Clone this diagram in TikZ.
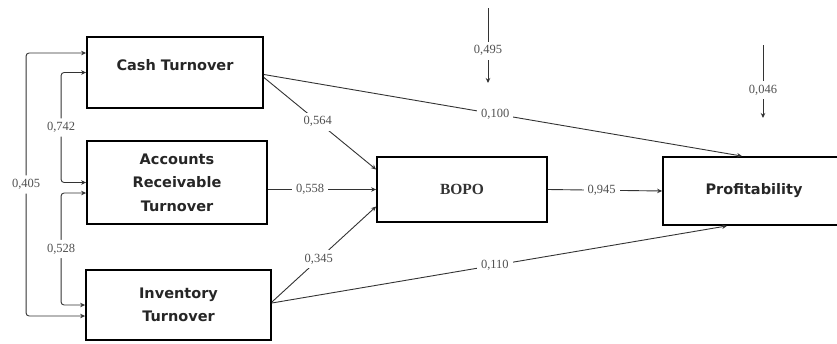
\documentclass[tikz,border=0pt]{standalone}
\usepackage{fontspec}
\setmainfont{Liberation Serif}
\newfontfamily\boxfont{DejaVu Sans}
\usetikzlibrary{arrows.meta}
\definecolor{lbl}{HTML}{505050}
\definecolor{ln}{HTML}{333333}
\begin{document}
\begin{tikzpicture}[x=1pt,y=-1pt,
  box/.style={draw=black,line width=1.8pt,rectangle,inner sep=2pt,align=center,
    font=\boxfont\bfseries\fontsize{14.5}{23.5}\selectfont,text=black!85},
  conn/.style={draw=ln,line width=0.9pt,-{Stealth[length=5pt,width=4.5pt]}},
  biconn/.style={draw=ln,line width=0.9pt,{Stealth[length=5pt,width=4.5pt]}-{Stealth[length=5pt,width=4.5pt]},rounded corners=3pt},
  lab/.style={fill=white,inner sep=4pt,text=lbl,font=\fontsize{12.5}{14}\selectfont}]
\useasboundingbox (0,0) rectangle (837,343);

\node[box,minimum width=176pt,minimum height=71pt,text height=10pt,text depth=15pt] (cash) at (175,72.5) {Cash Turnover};
\node[box,minimum width=180pt,minimum height=83pt] (ar) at (177,182.5) {Accounts\\Receivable\\Turnover};
\node[box,minimum width=185pt,minimum height=70pt] (inv) at (178.5,305) {Inventory\\Turnover};
\node[box,minimum width=170pt,minimum height=65pt,font=\bfseries\fontsize{15.5}{18}\selectfont,text=black!80] (bopo) at (462,189.5) {BOPO};
\node[box,minimum width=182pt,minimum height=68pt] (profit) at (754,191) {Profitability};

\coordinate (e1s) at (488,8);
\coordinate (e1e) at (488,83);
\coordinate (e2s) at (763,45);
\coordinate (e2e) at (763,118);

% correlations on the left
\draw[biconn] ([yshift=19.5pt]cash.west) -- ++(-60,0) |- node[lab,pos=0.25] {0,405} ([yshift=-11pt]inv.west);
\draw[biconn] (cash.west) -- ++(-25,0) |- node[lab,pos=0.25] {0,742} (ar.west);
\draw[biconn] ([yshift=-10.5pt]ar.west) -- ++(-25,0) |- node[lab,pos=0.25] {0,528} (inv.west);

% paths to BOPO
\draw[conn] ([yshift=-5pt]cash.east) -- node[lab,pos=0.48] {0,564} ([yshift=20pt]bopo.west);
\draw[conn] ([yshift=-7pt]ar.east) -- node[lab,pos=0.39] {0,558} (bopo.west);
\draw[conn] ([yshift=3pt]inv.east) -- node[lab,pos=0.45] {0,345} ([yshift=-17pt]bopo.west);

% paths to Profitability
\draw[conn] ([yshift=-2pt]cash.east) -- node[lab,pos=0.484] {0,100} ([xshift=-12pt]profit.north);
\draw[conn] ([yshift=2pt]inv.east) -- node[lab,pos=0.49] {0,110} ([xshift=-27pt]profit.south);
\draw[conn] (bopo.east) -- node[lab,pos=0.47] {0,945} (profit.west);

% error terms
\draw[conn] (e1s) -- node[lab,pos=0.57] {0,495} (e1e);
\draw[conn] (e2s) -- node[lab,pos=0.62] {0,046} (e2e);
\end{tikzpicture}
\end{document}
